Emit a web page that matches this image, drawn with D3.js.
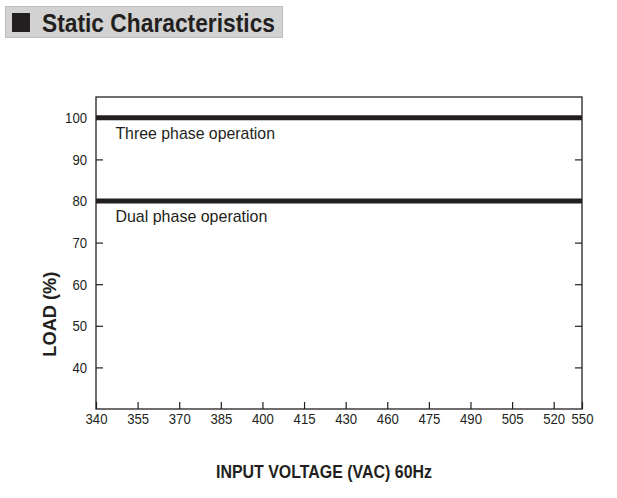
<!DOCTYPE html>
<html>
<head>
<meta charset="utf-8">
<script src="https://cdn.jsdelivr.net/npm/d3@7"></script>
<style>
  html, body { margin: 0; padding: 0; background: #fff; }
  svg { display: block; font-family: "Liberation Sans", Arial, sans-serif; }
</style>
</head>
<body>
<div id="chart"></div>
<script>
"use strict";

const width = 617;
const height = 498;

// x axis is not linear: tick labels are spaced evenly, except the last one
const xTicks = [340, 355, 370, 385, 400, 415, 430, 460, 475, 490, 505, 520, 550];
const yTicks = [40, 50, 60, 70, 80, 90, 100];

const seriesNames = ["Three phase operation", "Dual phase operation"];
const seriesVoltage = [340, 550];
const threePhaseLoad = [100, 100];
const dualPhaseLoad = [80, 80];

const margin = { top: 97, right: 35, bottom: 89, left: 96 };
const innerW = width - margin.left - margin.right;
const innerH = height - margin.top - margin.bottom;
const ink = "#231f20";

const svg = d3.select("#chart")
  .append("svg")
  .attr("width", width)
  .attr("height", height);

// header box
svg.append("rect")
  .attr("x", 5.5).attr("y", 6.5)
  .attr("width", 277).attr("height", 31)
  .attr("fill", "#d2d2d2")
  .attr("stroke", "#bdbdbd");

svg.append("rect")
  .attr("x", 12).attr("y", 13)
  .attr("width", 18).attr("height", 19)
  .attr("fill", ink);

svg.append("text")
  .attr("x", 42).attr("y", 32)
  .attr("font-size", 25)
  .attr("font-weight", "bold")
  .attr("fill", ink)
  .attr("textLength", 233)
  .attr("lengthAdjust", "spacingAndGlyphs")
  .text("Static Characteristics");

let g = svg.append("g")
  .attr("transform", `translate(${margin.left},${margin.top})`);

const step = innerW / 11.68;
const x = d3.scaleLinear()
  .domain(xTicks)
  .range(xTicks.map((d, i) => (i < xTicks.length - 1 ? i * step : innerW)));

const y = d3.scaleLinear()
  .domain([30, 105])
  .range([innerH, 0]);

// frame
g.append("rect")
  .attr("width", innerW)
  .attr("height", innerH)
  .attr("fill", "none")
  .attr("stroke", ink)
  .attr("stroke-width", 1.3);

// narrow-looking digits like the original print
const styleAxis = sel => {
  sel.select(".domain").remove();
  sel.selectAll(".tick line").attr("stroke", ink).attr("stroke-width", 1.2);
  sel.selectAll(".tick text")
    .attr("fill", ink)
    .attr("font-size", 15)
    .attr("font-family", "Liberation Sans, Arial, sans-serif")
    .attr("textLength", function () { return this.textContent.length * 7.3; })
    .attr("lengthAdjust", "spacingAndGlyphs");
};

g.append("g")
  .attr("transform", `translate(0,${innerH})`)
  .call(d3.axisBottom(x).tickValues(xTicks).tickSize(-7).tickPadding(4).tickFormat(d3.format("d")))
  .call(styleAxis);

g.append("g")
  .call(d3.axisLeft(y).tickValues(yTicks).tickSize(-7).tickPadding(9).tickFormat(d3.format("d")))
  .call(styleAxis);

g.append("g")
  .attr("transform", `translate(${innerW},0)`)
  .call(d3.axisRight(y).tickValues(yTicks).tickSize(-7).tickFormat(""))
  .call(styleAxis);

// series lines
const line = d3.line()
  .x(d => x(d[0]))
  .y(d => y(d[1]));

const series = [threePhaseLoad, dualPhaseLoad].map((vals, i) => ({
  name: seriesNames[i],
  points: seriesVoltage.map((v, j) => [v, vals[j]])
}));

g.selectAll(".series")
  .data(series)
  .enter()
  .append("path")
  .attr("class", "series")
  .attr("d", d => line(d.points))
  .attr("fill", "none")
  .attr("stroke", ink)
  .attr("stroke-width", 5);

g.selectAll(".series-label")
  .data(series)
  .enter()
  .append("text")
  .attr("class", "series-label")
  .attr("x", x(347))
  .attr("y", d => y(d.points[0][1]) + 21)
  .attr("font-size", 17)
  .attr("fill", ink)
  .attr("textLength", d => d.name.length * 7.6)
  .attr("lengthAdjust", "spacingAndGlyphs")
  .text(d => d.name);

// axis titles
svg.append("text")
  .attr("transform", `translate(56,${margin.top + y(52.8)}) rotate(-90)`)
  .attr("text-anchor", "middle")
  .attr("font-size", 19)
  .attr("font-weight", "bold")
  .attr("fill", ink)
  .attr("textLength", 85)
  .attr("lengthAdjust", "spacingAndGlyphs")
  .text("LOAD (%)");

svg.append("text")
  .attr("x", 324).attr("y", 478)
  .attr("text-anchor", "middle")
  .attr("font-size", 18)
  .attr("font-weight", "bold")
  .attr("fill", ink)
  .attr("textLength", 216)
  .attr("lengthAdjust", "spacingAndGlyphs")
  .text("INPUT VOLTAGE (VAC) 60Hz");
</script>
</body>
</html>
